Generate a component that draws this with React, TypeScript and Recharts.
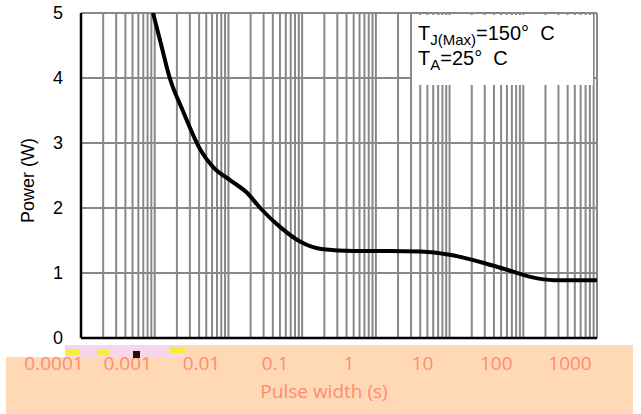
import { CartesianGrid, Line, LineChart, XAxis, YAxis } from "recharts";

// Pulse width (s) vs. single-pulse power (W)
const pulseWidth = [
    0.00095, 0.00123, 0.0016, 0.0024, 0.0042, 0.0062, 0.0105, 0.018, 0.027,
    0.05, 0.095, 0.18, 0.5, 1.5, 4, 10, 26, 60, 125, 260, 1000,
];
const power = [
    5.0, 4.5, 4.0, 3.5, 2.89, 2.63, 2.43, 2.23, 2.0,
    1.71, 1.48, 1.37, 1.34, 1.34, 1.33, 1.28, 1.17, 1.05, 0.94, 0.89, 0.89,
];

const decades = [0.0001, 0.001, 0.01, 0.1, 1, 10, 100, 1000];
const decadeLabels = ["0.0001", "0.001", "0.01", "0.1", "1", "10", "100", "1000"];
const minorSteps = [1, 2, 3, 4, 5, 6, 7, 8, 9];
const powerTicks = [0, 1, 2, 3, 4, 5];

const gridTicks = decades
    .slice(0, -1)
    .flatMap((d) => minorSteps.map((m) => m * d))
    .concat([decades[decades.length - 1]]);

const chartData = pulseWidth.map((t, i) => ({ t, p: power[i] }));

const SALMON = "#ff8c6c";
const PEACH = "#ffd8b6";

const XTick = (props: any) => {
    const { x, payload } = props;
    const idx = decades.findIndex((d) => Math.abs(Math.log10(d) - Math.log10(payload.value)) < 1e-9);
    if (idx < 0) return <g />;
    return (
        <text
            x={x - 27}
            y={370}
            textAnchor="middle"
            fill={SALMON}
            fontSize={19}
            fontFamily="'Open Sans', sans-serif"
        >
            {decadeLabels[idx]}
        </text>
    );
};

const XLabel = (props: any) => {
    const vb = props.viewBox;
    return (
        <text
            x={vb.x + vb.width / 2 - 15}
            y={398}
            textAnchor="middle"
            fill={SALMON}
            fontSize={19}
            fontFamily="'Open Sans', sans-serif"
        >
            Pulse width (s)
        </text>
    );
};

const YLabel = (props: any) => {
    const vb = props.viewBox;
    const cx = vb.x + 28;
    const cy = vb.y + vb.height / 2 + 5;
    return (
        <text
            x={cx}
            y={cy}
            transform={`rotate(-90 ${cx} ${cy})`}
            textAnchor="middle"
            dominantBaseline="central"
            fill="#000"
            fontSize={18}
            fontFamily="'Liberation Sans', Arial, sans-serif"
        >
            Power (W)
        </text>
    );
};

const App = () => {
    return (
        <div
            style={{
                position: "absolute",
                left: 0,
                top: 0,
                width: 641,
                height: 414,
                background: "#fff",
                overflow: "hidden",
            }}
        >
            {/* peach band behind the x labels */}
            <div style={{ position: "absolute", left: 6, top: 357, width: 627, height: 57, background: PEACH }} />
            <div style={{ position: "absolute", left: 65, top: 345, width: 568, height: 12, background: PEACH }} />

            <div style={{ position: "absolute", left: 0, top: 0 }}>
                <LineChart
                    width={641}
                    height={414}
                    data={chartData}
                    margin={{ top: 13, right: 44, bottom: 0, left: 0 }}
                >
                    <CartesianGrid stroke="#888888" strokeWidth={2} />
                    <XAxis
                        dataKey="t"
                        type="number"
                        scale="log"
                        domain={[0.0001, 1000]}
                        allowDataOverflow
                        ticks={gridTicks}
                        interval={0}
                        height={76}
                        tickLine={false}
                        axisLine={{ stroke: "#000", strokeWidth: 2.5 }}
                        tick={<XTick />}
                        label={<XLabel />}
                    />
                    <YAxis
                        type="number"
                        domain={[0, 5]}
                        ticks={powerTicks}
                        allowDataOverflow
                        width={81}
                        tickLine={false}
                        tickSize={0}
                        tickMargin={18}
                        axisLine={{ stroke: "#000", strokeWidth: 2.5 }}
                        tick={{ fill: "#000", fontSize: 18, fontFamily: "'Liberation Sans', Arial, sans-serif" }}
                        label={<YLabel />}
                    />
                    <Line
                        type="monotone"
                        dataKey="p"
                        stroke="#000"
                        strokeWidth={4}
                        dot={false}
                        isAnimationActive={false}
                    />
                </LineChart>
            </div>

            {/* annotation box */}
            <div
                style={{
                    position: "absolute",
                    left: 412,
                    top: 15,
                    width: 181,
                    height: 70,
                    background: "#fff",
                    fontFamily: "'Liberation Sans', Arial, sans-serif",
                    fontSize: 20,
                    color: "#000",
                    lineHeight: "25px",
                    paddingLeft: 6,
                    paddingTop: 6,
                    boxSizing: "border-box",
                }}
            >
                <div>
                    T<sub style={{ fontSize: 15, lineHeight: 0 }}>J(Max)</sub>=150°&nbsp;&nbsp;C
                </div>
                <div>
                    T<sub style={{ fontSize: 15, lineHeight: 0 }}>A</sub>=25°&nbsp;&nbsp;C
                </div>
            </div>

            {/* scan noise strip over the first labels */}
            <div style={{ position: "absolute", left: 65, top: 345, width: 120, height: 12, background: "#f8d6ea" }} />
            <div style={{ position: "absolute", left: 66, top: 349, width: 14, height: 6, background: "#f4ee3a" }} />
            <div style={{ position: "absolute", left: 97, top: 350, width: 12, height: 5, background: "#f4ee3a" }} />
            <div style={{ position: "absolute", left: 133, top: 351, width: 7, height: 7, background: "#2a0a0a" }} />
            <div style={{ position: "absolute", left: 170, top: 347, width: 15, height: 6, background: "#f4ee3a" }} />
        </div>
    );
};

export default App;
